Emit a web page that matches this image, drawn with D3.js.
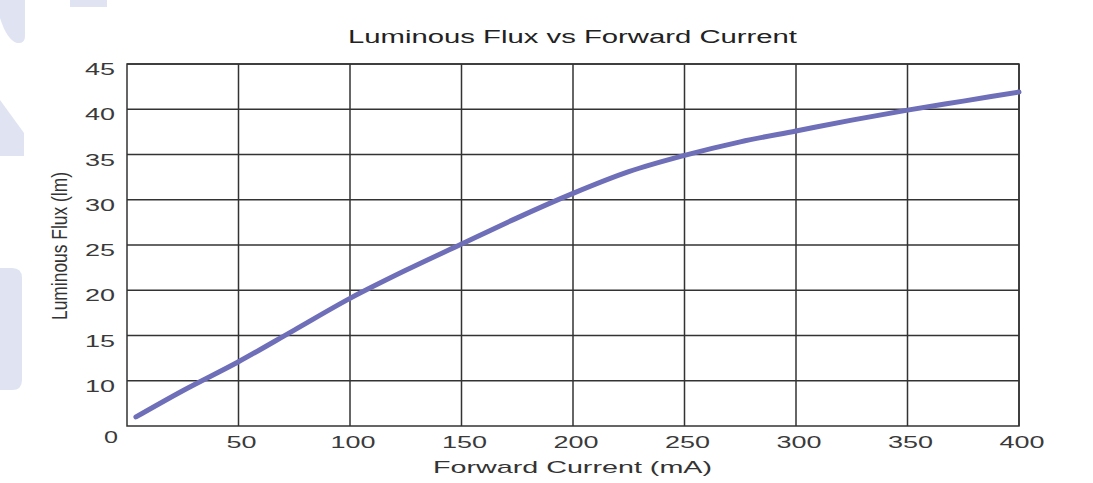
<!DOCTYPE html>
<html>
<head>
<meta charset="utf-8">
<script src="https://cdn.jsdelivr.net/npm/d3@7"></script>
<style>
  html, body { margin: 0; padding: 0; background: #ffffff; }
  svg { display: block; }
  text { font-family: "Liberation Sans", Arial, sans-serif; }
</style>
</head>
<body>
<svg id="chart" width="1093" height="483"></svg>
<script>
// ---- data ----
const current = [4, 25, 50, 75, 100, 125, 150, 175, 200, 225, 250, 275, 300, 325, 350, 375, 400];
const flux    = [6.0, 8.9, 12.1, 15.6, 19.1, 22.2, 25.1, 28.0, 30.7, 33.1, 34.9, 36.4, 37.6, 38.8, 39.9, 40.9, 41.9];
const xTicks  = [50, 100, 150, 200, 250, 300, 350, 400];
const yTicks  = [10, 15, 20, 25, 30, 35, 40, 45];
const originLabel = "0";
const titleText = "Luminous Flux  vs Forward Current";
const xTitle = "Forward Current (mA)";
const yTitle = "Luminous Flux (lm)";

const svg = d3.select("#chart");

// decorative background shapes (left edge)
const deco = svg.append("g").attr("fill", "#dfe3f2");
deco.append("path").attr("d", "M0,0 L25,0 L25,36 Q25,44 17,43 Q7,40 0,18 Z");
deco.append("rect").attr("x", 70).attr("y", 0).attr("width", 37).attr("height", 7);
deco.append("path").attr("d", "M0,100 L24,133 L24,156 L0,156 Z");
deco.append("path").attr("d", "M0,268 L12,268 Q22,268 22,278 L22,380 Q22,390 12,390 L0,390 Z");

const x = d3.scaleLinear().domain([0, 400]).range([127, 1019]);
const y = d3.scaleLinear().domain([5, 45]).range([426, 64]);

const grid = svg.append("g").attr("stroke", "#333").attr("stroke-width", 1.5).attr("fill", "none");
grid.selectAll("line.v").data(xTicks).join("line")
  .attr("x1", d => x(d)).attr("x2", d => x(d))
  .attr("y1", y(45)).attr("y2", y(5));
grid.selectAll("line.h").data(yTicks).join("line")
  .attr("x1", x(0)).attr("x2", x(400))
  .attr("y1", d => y(d)).attr("y2", d => y(d));
grid.append("rect")
  .attr("x", x(0)).attr("y", y(45))
  .attr("width", x(400) - x(0)).attr("height", y(5) - y(45));

// y tick labels
svg.append("g").selectAll("text").data(yTicks).join("text")
  .attr("x", 115).attr("y", d => y(d) + 11)
  .attr("text-anchor", "end")
  .attr("font-size", 16).attr("fill", "#3a3a3a")
  .attr("textLength", d => String(d).length * 15)
  .attr("lengthAdjust", "spacingAndGlyphs")
  .text(d => d);

// x tick labels
svg.append("g").selectAll("text").data(xTicks).join("text")
  .attr("x", d => x(d) + 3).attr("y", 448)
  .attr("text-anchor", "middle")
  .attr("font-size", 16).attr("fill", "#3a3a3a")
  .attr("textLength", d => String(d).length * 15)
  .attr("lengthAdjust", "spacingAndGlyphs")
  .text(d => d);

// origin label
svg.append("text")
  .attr("x", x(0) - 16).attr("y", 443)
  .attr("text-anchor", "middle")
  .attr("font-size", 16).attr("fill", "#3a3a3a")
  .attr("textLength", 14).attr("lengthAdjust", "spacingAndGlyphs")
  .text(originLabel);

// curve
const line = d3.line()
  .x((d, i) => x(current[i]))
  .y(d => y(d))
  .curve(d3.curveMonotoneX);
svg.append("path")
  .datum(flux)
  .attr("d", line)
  .attr("fill", "none")
  .attr("stroke", "#6e6fb8")
  .attr("stroke-width", 5)
  .attr("stroke-linecap", "round");

// title
svg.append("text")
  .attr("x", 348).attr("y", 43)
  .attr("font-size", 18).attr("fill", "#222")
  .attr("textLength", 449).attr("lengthAdjust", "spacingAndGlyphs")
  .text(titleText);

// x title
svg.append("text")
  .attr("x", 433).attr("y", 473)
  .attr("font-size", 17).attr("fill", "#333")
  .attr("textLength", 279).attr("lengthAdjust", "spacingAndGlyphs")
  .text(xTitle);

// y title
svg.append("text")
  .attr("transform", "translate(67,246) rotate(-90)")
  .attr("text-anchor", "middle")
  .attr("font-size", 22).attr("fill", "#333")
  .attr("textLength", 148).attr("lengthAdjust", "spacingAndGlyphs")
  .text(yTitle);
</script>
</body>
</html>
